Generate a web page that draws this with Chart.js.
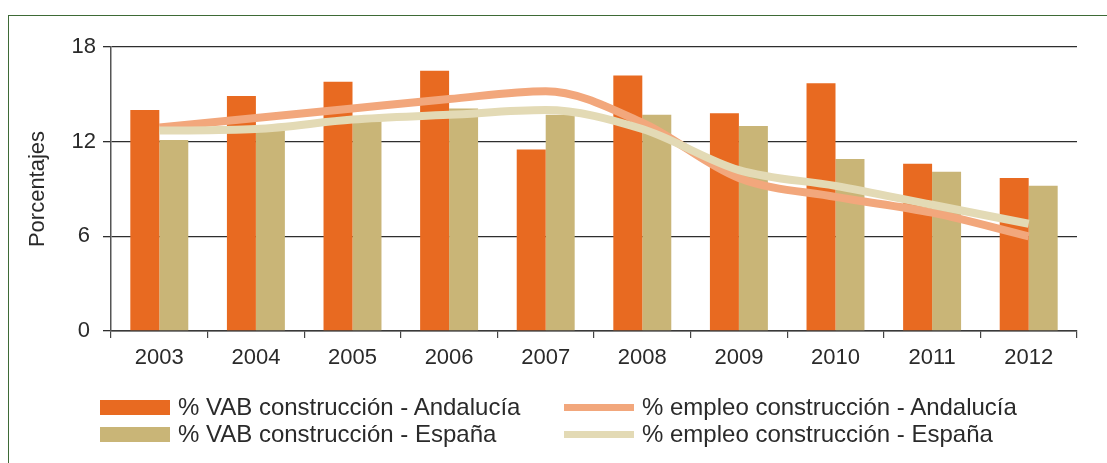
<!DOCTYPE html>
<html lang="es">
<head>
<meta charset="utf-8">
<title>VAB y empleo en construcción</title>
<script src="https://cdn.jsdelivr.net/npm/chart.js@4/dist/chart.umd.min.js"></script>
<style>
  html, body { margin: 0; padding: 0; background: #fff; }
  body { width: 1107px; height: 463px; position: relative; overflow: hidden;
         font-family: "Liberation Sans", Arial, sans-serif; }
  #frame { position: absolute; left: 8px; top: 15px; right: -4px; bottom: -4px;
           border-top: 1.5px solid #3e6a36; border-left: 1.5px solid #3e6a36; }
  #wrap { position: absolute; left: 0; top: 0; width: 1107px; height: 463px; }
  #legend { position: absolute; left: 0; top: 0; width: 1107px; height: 463px; pointer-events: none; }
  .item { position: absolute; display: flex; align-items: center; height: 20px;
          font-size: 24px; color: #2a2a2a; white-space: nowrap; }
  .sw { display: inline-block; width: 70px; margin-right: 8px; }
</style>
</head>
<body>
<div id="frame"></div>
<div id="wrap"><canvas id="c" width="1107" height="463"></canvas></div>
<div id="legend"></div>
<script>
// Años
const years = ['2003', '2004', '2005', '2006', '2007', '2008', '2009', '2010', '2011', '2012'];
// % VAB construcción
const vabAndalucia = [14.0, 14.9, 15.8, 16.5, 11.5, 16.2, 13.8, 15.7, 10.6, 9.7];
const vabEspana    = [12.1, 12.7, 13.6, 14.1, 13.7, 13.7, 13.0, 10.9, 10.1, 9.2];
// % empleo construcción
const empleoAndalucia = [12.9, 13.5, 14.1, 14.7, 15.2, 13.2, 9.7, 8.5, 7.5, 6.0];
const empleoEspana    = [12.7, 12.8, 13.4, 13.7, 14.0, 12.8, 10.2, 9.2, 8.0, 6.8];
// Eje Y
const yTicks = [0, 6, 12, 18];

const labelsVab = ['% VAB construcción - Andalucía', '% VAB construcción - España'];
const labelsEmpleo = ['% empleo construcción - Andalucía', '% empleo construcción - España'];

const C_ORANGE = '#e86a21';
const C_TAN = '#c9b577';
const C_ORANGE_LINE = '#f2a77c';
const C_TAN_LINE = '#e3dab5';

const FONT = '"Liberation Sans", Arial, sans-serif';
const TEXT = '#2a2a2a';

const chart = new Chart(document.getElementById('c'), {
  type: 'bar',
  data: {
    labels: years,
    datasets: [
      { label: labelsVab[0], data: vabAndalucia, backgroundColor: C_ORANGE, order: 3,
        categoryPercentage: 0.6, barPercentage: 1.0 },
      { label: labelsVab[1], data: vabEspana, backgroundColor: C_TAN, order: 3,
        categoryPercentage: 0.6, barPercentage: 1.0 },
      { type: 'line', label: labelsEmpleo[0], data: empleoAndalucia, borderColor: C_ORANGE_LINE,
        borderWidth: 8, pointRadius: 0, cubicInterpolationMode: 'monotone', order: 2,
        borderCapStyle: 'butt', borderJoinStyle: 'round', fill: false },
      { type: 'line', label: labelsEmpleo[1], data: empleoEspana, borderColor: C_TAN_LINE,
        borderWidth: 8, pointRadius: 0, cubicInterpolationMode: 'monotone', order: 1,
        borderCapStyle: 'butt', borderJoinStyle: 'round', fill: false }
    ]
  },
  options: {
    responsive: false,
    animation: false,
    devicePixelRatio: 1,
    layout: { padding: { left: 20, top: 47, right: 30, bottom: 92 } },
    plugins: { legend: { display: false }, tooltip: { enabled: false } },
    scales: {
      x: {
        offset: true,
        grid: { display: true, drawOnChartArea: false, drawTicks: true, tickLength: 7,
                color: '#444', lineWidth: 1.2 },
        border: { display: true, color: '#3a3a3a', width: 1.5 },
        ticks: { color: TEXT, font: { family: FONT, size: 22 }, padding: 7, maxRotation: 0 },
        afterFit: (s) => { s.height = 40; }
      },
      y: {
        min: yTicks[0], max: yTicks[yTicks.length - 1],
        afterBuildTicks: (s) => { s.ticks = yTicks.map(v => ({ value: v })); },
        grid: { color: '#2e2e2e', lineWidth: 1.3, tickLength: 8 },
        border: { display: true, color: '#555', width: 1.5 },
        ticks: { color: TEXT, font: { family: FONT, size: 22 }, padding: 7, crossAlign: 'center' },
        title: { display: true, text: 'Porcentajes', color: TEXT,
                 font: { family: FONT, size: 22 }, padding: { top: 5, bottom: 0 } },
        afterFit: (s) => { s.width = 91; }
      }
    }
  }
});

// Leyenda en dos filas: barras a la izquierda, líneas a la derecha
const legend = document.getElementById('legend');
const ds = chart.data.datasets;
const entries = [
  { d: ds[0], left: 100, top: 397, kind: 'bar' },
  { d: ds[2], left: 564, top: 397, kind: 'line' },
  { d: ds[1], left: 100, top: 424, kind: 'bar' },
  { d: ds[3], left: 564, top: 424, kind: 'line' }
];
entries.forEach(e => {
  const it = document.createElement('div');
  it.className = 'item';
  it.style.left = e.left + 'px';
  it.style.top = e.top + 'px';
  const sw = document.createElement('span');
  sw.className = 'sw';
  if (e.kind === 'bar') {
    sw.style.height = '15px';
    sw.style.background = e.d.backgroundColor;
  } else {
    sw.style.height = '7px';
    sw.style.background = e.d.borderColor;
  }
  const tx = document.createElement('span');
  tx.textContent = e.d.label;
  it.appendChild(sw);
  it.appendChild(tx);
  legend.appendChild(it);
});
</script>
</body>
</html>
